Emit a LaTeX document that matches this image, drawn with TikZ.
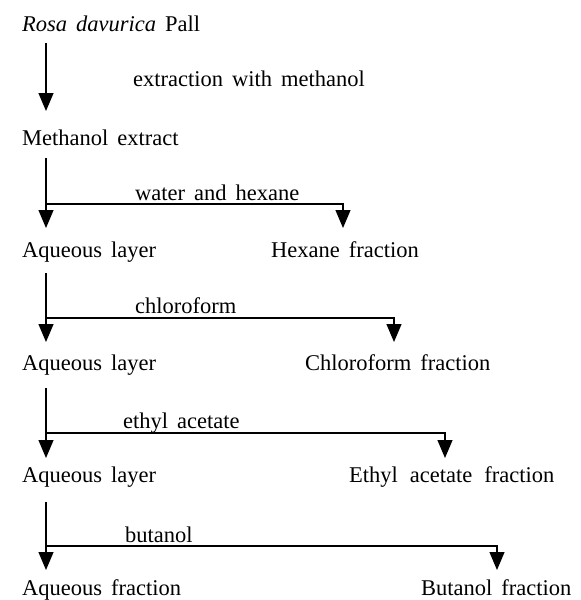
\documentclass[tikz,border=0pt]{standalone}
\usepackage{fontspec}
\setmainfont{Liberation Serif}
\usetikzlibrary{arrows.meta}
\newcommand{\fsz}{\fontsize{22.5}{26}\selectfont\spaceskip=0.4em plus 0.1em}
\begin{document}
\begin{tikzpicture}[x=1pt,y=-1pt,
  txt/.style={anchor=base west,inner sep=0pt,font=\fsz},
  lbl/.style={anchor=base west,inner sep=0pt,font=\fsz},
  conn/.style={line width=1.2pt},
  arr/.style={conn,-{Triangle[width=15pt,length=18pt]}}]
\useasboundingbox[fill=white] (0,0) rectangle (581,600);
% column
\coordinate (col) at (46,0);
% texts
\node[txt] (rosa) at (22,31) {\textit{Rosa davurica} Pall};
\node[lbl] (l0) at (133,86) {extraction with methanol};
\node[txt] (meth) at (22,145) {Methanol extract};
\node[lbl] (l1) at (135,200) {water and hexane};
\node[txt] (aq1) at (22,257) {Aqueous layer};
\node[txt] (hex) at (271,257) {Hexane fraction};
\node[lbl] (l2) at (135,313) {chloroform};
\node[txt] (aq2) at (22,370) {Aqueous layer};
\node[txt] (chl) at (305,370) {Chloroform fraction};
\node[lbl] (l3) at (123,428) {ethyl acetate};
\node[txt] (aq3) at (22,482) {Aqueous layer};
\node[txt] (eth) at (349,482) {Ethyl\hspace{12pt}acetate\hspace{12pt}fraction};
\node[lbl] (l4) at (125,542) {butanol};
\node[txt] (aqf) at (22,595) {Aqueous fraction};
\node[txt] (but) at (421,595) {Butanol fraction};
% branch points
\coordinate (b1) at (46,204);
\coordinate (b2) at (46,318);
\coordinate (b3) at (46,433);
\coordinate (b4) at (46,546);
\coordinate (r1) at (343,0);
\coordinate (r2) at (394,0);
\coordinate (r3) at (445,0);
\coordinate (r4) at (497,0);
% connectors
\draw[arr] ([yshift=-12pt]rosa.base -| col) -- ([yshift=34pt]meth.base -| col);
\draw[arr] ([yshift=-13pt]meth.base -| col) -- ([yshift=29pt]aq1.base -| col);
\draw[arr] (b1) -| ([yshift=29pt]hex.base -| r1);
\draw[arr] ([yshift=-16pt]aq1.base -| col) -- ([yshift=28pt]aq2.base -| col);
\draw[arr] (b2) -| ([yshift=28pt]chl.base -| r2);
\draw[arr] ([yshift=-18pt]aq2.base -| col) -- ([yshift=24pt]aq3.base -| col);
\draw[arr] (b3) -| ([yshift=24pt]eth.base -| r3);
\draw[arr] ([yshift=-20pt]aq3.base -| col) -- ([yshift=25pt]aqf.base -| col);
\draw[arr] (b4) -| ([yshift=25pt]but.base -| r4);
\end{tikzpicture}
\end{document}
